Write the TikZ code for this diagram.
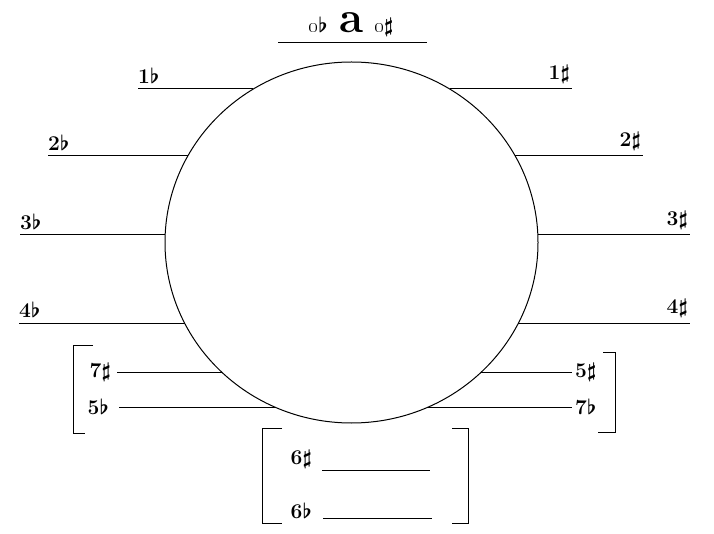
\documentclass[tikz,border=0pt]{standalone}
\usetikzlibrary{positioning}
\usetikzlibrary{shapes}

\begin{document}
\begin{tikzpicture}[x=1pt, y=-1pt]
    \tikzset{
        every node/.style={font=\fontsize{21}{24}\selectfont\bfseries\boldmath, inner sep=1pt},
        rule/.style={line width=1pt}
    }
    \useasboundingbox (0,0) rectangle (714,534);

    % the wheel
    \node [ellipse, draw, line width=1pt, minimum width=373, minimum height=361, inner sep=0] (rim) at (351.5,242.5) {};

    % top key
    \coordinate (T1) at (278,43);
    \coordinate (T2) at (427,43);
    \draw [rule] (T1) -- (T2);
    \node [font=\fontsize{44}{44}\selectfont\bfseries, anchor=base] (key) at (352,33) {a};
    \node [base left=10pt of key] {\oldstylenums{0}$\flat$};
    \node [base right=8pt of key] {\oldstylenums{0}$\sharp$};

    % four rows on both sides
    \foreach \n/\y/\xa/\xb/\xc/\xd in {1/89/138/253.4/449.6/572, 2/156/48/187.8/515.2/643, 3/235/20/165.3/537.7/690, 4/323/19/184.6/518.4/690} {
        \coordinate (L\n) at (\xa,\y);
        \coordinate (Lr\n) at (\xb,\y);
        \coordinate (Rr\n) at (\xc,\y);
        \coordinate (R\n) at (\xd,\y);
        \draw [rule] (L\n) -- (Lr\n);
        \draw [rule] (Rr\n) -- (R\n);
        \node [above right=4pt and -1pt of L\n] (fl\n) {\n$\flat$};
        \node [above left=4pt and 1pt of R\n] (sh\n) {\n$\sharp$};
    }

    % lower rows
    \coordinate (B1) at (117,372);
    \coordinate (B2) at (221.6,372);
    \coordinate (B3) at (119,407);
    \coordinate (B4) at (274.7,407);
    \coordinate (C1) at (481.4,372);
    \coordinate (C2) at (572,372);
    \coordinate (C3) at (428.3,407);
    \coordinate (C4) at (572,407);
    \draw [rule] (B1) -- (B2);
    \draw [rule] (B3) -- (B4);
    \draw [rule] (C1) -- (C2);
    \draw [rule] (C3) -- (C4);
    \node [left=5pt of B1] {7$\sharp$};
    \node [left=9pt of B3] {5$\flat$};
    \node [right=2pt of C2] {5$\sharp$};
    \node [right=2pt of C4] {7$\flat$};

    % brackets
    \draw [rule] (93,345) -- (73,345) -- (73,433) -- (85,433);
    \draw [rule] (603,352) -- (615,352) -- (615,432) -- (598,432);
    \draw [rule] (282,428) -- (262,428) -- (262,523) -- (282,523);
    \draw [rule] (452,428) -- (468,428) -- (468,523) -- (452,523);

    % the sixth
    \coordinate (D1) at (322,470);
    \coordinate (D2) at (430,470);
    \coordinate (D3) at (323,518);
    \coordinate (D4) at (432,518);
    \draw [rule] (D1) -- (D2);
    \draw [rule] (D3) -- (D4);
    \node [above left=0pt and 9pt of D1] {6$\sharp$};
    \node [above left=-2pt and 10pt of D3] {6$\flat$};

\end{tikzpicture}
\end{document}
